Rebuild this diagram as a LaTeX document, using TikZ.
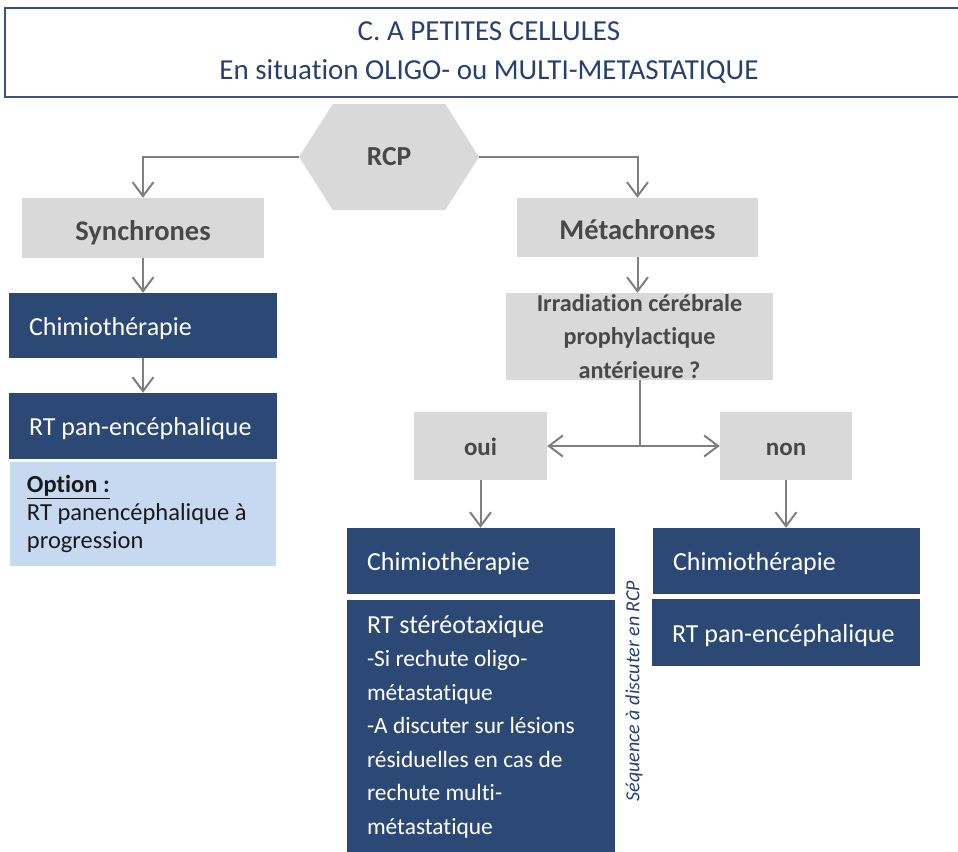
\documentclass[tikz,border=0pt]{standalone}
\usepackage{fontspec}
\setmainfont{Carlito}[Ligatures={NoCommon}]
\usetikzlibrary{arrows.meta,shapes.symbols,positioning}
\definecolor{navybox}{RGB}{44,73,117}
\definecolor{titleblue}{RGB}{40,64,110}
\definecolor{framegray}{RGB}{55,82,130}
\definecolor{boxgray}{RGB}{217,217,217}
\definecolor{textgray}{RGB}{72,72,72}
\definecolor{arrowgray}{RGB}{127,127,127}
\definecolor{optionblue}{RGB}{198,217,241}
\newcommand{\fs}[2]{\fontsize{#1}{#2}\selectfont}
\begin{document}
\begin{tikzpicture}[x=1pt,y=-1pt,
    greybox/.style={fill=boxgray,text=textgray,font=\bfseries,inner sep=0pt,align=center},
    navy/.style={fill=navybox,text=white,inner xsep=20pt,inner ysep=0pt,align=flush left,font=\fs{26}{31}},
    oneline/.style={text height=#1,text depth=0pt},
    arr/.style={draw=arrowgray,line width=2pt,-{Straight Barb[length=14pt,width=21pt]}},
    plain/.style={draw=arrowgray,line width=2pt}]
\useasboundingbox (0,0) rectangle (958,851);
% title
\node[draw=framegray,line width=2.5pt,minimum width=968,minimum height=89,text=titleblue,
      align=center,font=\fs{29}{39}] (title) at (489,52.5)
      {C. A PETITES CELLULES\\En situation OLIGO- ou MULTI-METASTATIQUE};
% RCP
\node[fill=boxgray,text=textgray,font=\bfseries\fs{27.5}{33},signal,signal to=west and east,
      signal pointer angle=115,minimum width=180,minimum height=106,inner sep=0pt] (rcp) at (389,157) {RCP};
% left column
\node[greybox,oneline=24pt,font=\bfseries\fs{28.5}{34},minimum width=242,minimum height=60] (sync) at (143,228) {Synchrones};
\node[navy,oneline=19pt,text width=228,minimum height=65] (chimioA) at (143,325.5) {Chimiothérapie};
\node[navy,oneline=19pt,text width=228,minimum height=66] (rtA) at (143,426) {RT pan-encéphalique};
\node[fill=optionblue,text=black!90,inner xsep=17pt,inner ysep=0pt,text width=232,minimum height=104,
      align=flush left,font=\fs{24.5}{28}] (option) at (143,514)
      {\underline{\textbf{Option :}}\\RT panencéphalique à\\progression};
% right column
\node[greybox,oneline=24pt,font=\bfseries\fs{28.5}{34},minimum width=241,minimum height=59] (meta) at (637.5,227.5) {Métachrones};
\node[greybox,font=\bfseries\fs{24.2}{33.5},minimum width=267,minimum height=87] (irr) at (639.5,336.5)
      {Irradiation cérébrale\\prophylactique\\antérieure ?};
\node[greybox,oneline=18pt,font=\bfseries\fs{25}{30},minimum width=133,minimum height=68] (oui) at (480.5,446) {oui};
\node[greybox,oneline=18pt,font=\bfseries\fs{25}{30},minimum width=132,minimum height=68] (non) at (786,446) {non};
\node[navy,oneline=19pt,text width=228,minimum height=66] (chimioB) at (481,561) {Chimiothérapie};
\node[navy,text width=228,minimum height=253,font=\fs{23.4}{33.5}] (rtB) at (481,726.5)
      {{\fs{26}{31}RT stéréotaxique}\\-Si rechute oligo-\\métastatique\\-A discuter sur lésions\\résiduelles en cas de\\rechute multi-\\métastatique};
\node[navy,oneline=19pt,text width=227,minimum height=66] (chimioC) at (786.5,561) {Chimiothérapie};
\node[navy,oneline=19pt,text width=228,minimum height=67] (rtC) at (786,632.5) {RT pan-encéphalique};
\node[rotate=90,text=titleblue,font=\itshape\fs{20}{24},inner sep=0pt] (seq) at (634,691) {Séquence à discuter en RCP};
% connectors
\draw[arr] (rcp.west) -| (sync.north);
\draw[arr] (rcp.east) -| (meta.north);
\draw[arr] (sync) -- (chimioA);
\draw[arr] (chimioA) -- (rtA);
\draw[arr] (meta.south) -- (meta.south |- irr.north);
\coordinate (split) at (irr.south |- oui.east);
\draw[plain] (irr.south) -- (split);
\draw[arr] (split) -- (oui.east);
\draw[arr] (split) -- (non.west);
\draw[arr] (oui.south) -- (oui.south |- chimioB.north);
\draw[arr] (non.south) -- (non.south |- chimioC.north);
\end{tikzpicture}
\end{document}
